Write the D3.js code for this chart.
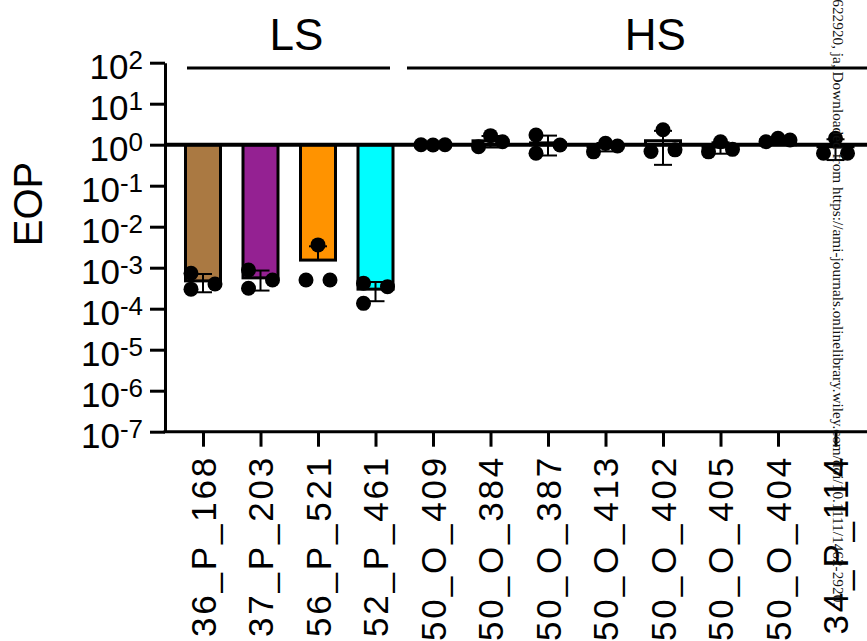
<!DOCTYPE html>
<html>
<head>
<meta charset="utf-8">
<script src="https://cdn.jsdelivr.net/npm/d3@7"></script>
<style>
  html, body { margin: 0; padding: 0; background: #fff; }
  svg { display: block; }
</style>
</head>
<body>
<script>
// ---------------- data ----------------
const categories = ["36_P_168","37_P_203","56_P_521","52_P_461","50_O_409","50_O_384","50_O_387","50_O_413","50_O_402","50_O_405","50_O_404","34_P_114"];
const replicates = [
  [7.3e-4, 3.0e-4, 4.0e-4],
  [8.8e-4, 3.15e-4, 5.0e-4],
  [5.0e-4, 5.0e-4, 3.6e-3],
  [4.2e-4, 3.45e-4, 1.35e-4],
  [1.0, 1.0, 0.98],
  [0.89, 1.18, 1.66],
  [1.72, 0.62, 0.98],
  [0.67, 0.93, 1.08],
  [0.68, 0.75, 2.32],
  [0.67, 0.77, 1.18],
  [1.18, 1.30, 1.43],
  [0.62, 0.62, 1.43]
];
const barColors = ["#aa7942","#942192","#ff9300","#00fdff","#ffffff","#ffffff","#ffffff","#ffffff","#ffffff","#ffffff","#ffffff","#ffffff"];
const groupNames = ["LS","HS"];
const groupFirst = [0, 4];
const groupLast = [3, 11];
const yTickExponents = [2,1,0,-1,-2,-3,-4,-5,-6,-7];
const yLabel = "EOP";
const watermark = "14622920, ja, Downloaded from https://ami-journals.onlinelibrary.wiley.com/doi/10.1111/1462-2920.";

// ---------------- layout ----------------
const W = 867, H = 641;
const FONT = "'Liberation Sans', Arial, Helvetica, sans-serif";
const svg = d3.select("body").append("svg").attr("width", W).attr("height", H)
  .style("font-family", FONT);
svg.append("rect").attr("width", W).attr("height", H).attr("fill", "#fff");

const y = d3.scaleLog().domain([1e-7, 1e2]).range([431.7, 62.7]);
const x = d3.scalePoint().domain(categories).range([203, 835.5]);
const axisLeftX = 165;
const barW = 35, dotR = 7.5, capHW = 9;

// y axis
const gy = svg.append("g").attr("transform", `translate(${axisLeftX},0)`)
  .call(d3.axisLeft(y).tickValues(yTickExponents.map(e => Math.pow(10, e))).tickSize(15).tickSizeOuter(0).tickFormat(""));
gy.select(".domain").attr("stroke", "#000").attr("stroke-width", 3);
gy.selectAll(".tick line").attr("stroke", "#000").attr("stroke-width", 3);

// y tick labels
yTickExponents.forEach(e => {
  const t = svg.append("text").attr("x", 143).attr("y", y(Math.pow(10, e)) + 16)
    .attr("text-anchor", "end").attr("font-size", 35).attr("fill", "#000");
  t.append("tspan").text("10");
  t.append("tspan").attr("dy", -10).attr("font-size", 26).text(String(e));
});

// y label
svg.append("text").attr("transform", `translate(28,204) rotate(-90)`)
  .attr("text-anchor", "middle").attr("dy", "0.36em").attr("font-size", 40).text(yLabel);

// x axis
svg.append("line").attr("x1", axisLeftX - 1.5).attr("x2", W).attr("y1", y(1e-7)).attr("y2", y(1e-7))
  .attr("stroke", "#000").attr("stroke-width", 3);
const gx = svg.append("g").attr("transform", `translate(0,${y(1e-7)})`)
  .call(d3.axisBottom(x).tickSize(15).tickSizeOuter(0).tickFormat(""));
gx.select(".domain").remove();
gx.selectAll(".tick line").attr("stroke", "#000").attr("stroke-width", 3);

// x labels
categories.forEach(c => {
  svg.append("text").attr("transform", `translate(${x(c)},455) rotate(-90)`)
    .attr("text-anchor", "end").attr("dy", "0.36em").attr("font-size", 35)
    .attr("letter-spacing", 2.8).text(c);
});

// bars
const stats = replicates.map(v => ({ mean: d3.mean(v), sd: d3.deviation(v) }));
categories.forEach((c, i) => {
  const y0 = y(1), y1 = y(stats[i].mean);
  svg.append("rect").attr("x", x(c) - barW / 2).attr("width", barW)
    .attr("y", Math.min(y0, y1)).attr("height", Math.abs(y1 - y0))
    .attr("fill", barColors[i]).attr("stroke", "#000").attr("stroke-width", 3);
});

// baseline at 10^0
svg.append("line").attr("x1", axisLeftX).attr("x2", W).attr("y1", y(1)).attr("y2", y(1))
  .attr("stroke", "#000").attr("stroke-width", 4);

// error bars (mean ± SD)
categories.forEach((c, i) => {
  const m = stats[i].mean, s = stats[i].sd;
  const up = m + s, lo = m - s;
  const cx = x(c);
  const yTop = y(up), yBot = lo > 0 ? y(lo) : y(m);
  svg.append("line").attr("x1", cx).attr("x2", cx).attr("y1", yTop).attr("y2", yBot)
    .attr("stroke", "#000").attr("stroke-width", 2);
  const caps = [yTop];
  if (lo > 0) caps.push(yBot);
  caps.forEach(cy => svg.append("line").attr("x1", cx - capHW).attr("x2", cx + capHW)
    .attr("y1", cy).attr("y2", cy).attr("stroke", "#000").attr("stroke-width", 2));
});

// dots with a simple scatter arrangement
function arrange(vals) {
  const ys = vals.map(v => y(v));
  const placed = [];
  ys.forEach((yy, i) => {
    const isolated = ys.every((o, j) => j === i || Math.abs(o - yy) >= 18);
    let slot = 0;
    if (!isolated) {
      const free = [-1, 1, 0].find(s => placed.every(p => p.slot !== s || Math.abs(p.y - yy) >= 15.5));
      slot = free === undefined ? 0 : free;
    }
    placed.push({ slot, y: yy });
  });
  return placed;
}
categories.forEach((c, i) => {
  arrange(replicates[i]).forEach(p => {
    svg.append("circle").attr("cx", x(c) + p.slot * 12).attr("cy", p.y).attr("r", dotR).attr("fill", "#000");
  });
});

// group labels
groupNames.forEach((g, k) => {
  const xa = x(categories[groupFirst[k]]), xb = x(categories[groupLast[k]]);
  const x1 = k === 0 ? xa - 16 : xa - 26;
  const x2 = k === 0 ? xb + 14.5 : xb + 52;
  svg.append("line").attr("x1", x1).attr("x2", x2).attr("y1", 68).attr("y2", 68)
    .attr("stroke", "#000").attr("stroke-width", 3);
  svg.append("text").attr("x", (x1 + x2) / 2 + 8).attr("y", 50).attr("text-anchor", "middle")
    .attr("font-size", 44).text(g);
});

// side watermark
svg.append("text").attr("transform", `translate(833,-16) rotate(90)`)
  .attr("font-family", "'Liberation Serif', 'Times New Roman', serif")
  .attr("font-size", 15.3).attr("fill", "#111").text(watermark);
</script>
</body>
</html>
